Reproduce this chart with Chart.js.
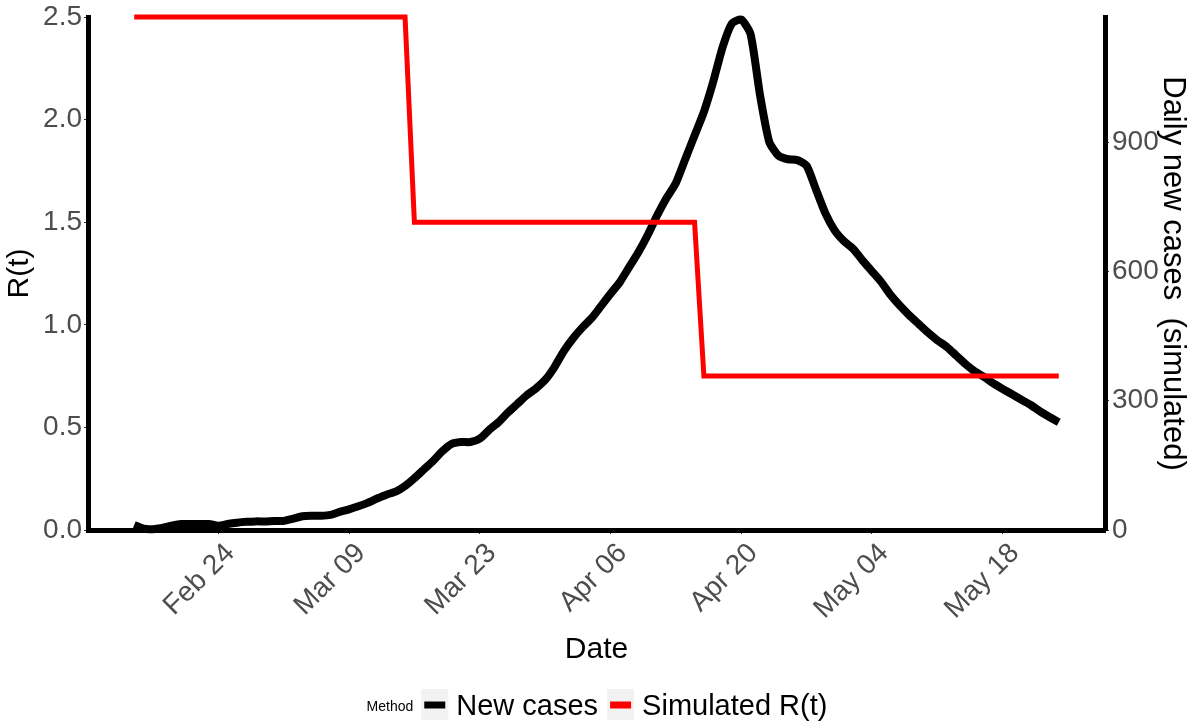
<!DOCTYPE html>
<html>
<head>
<meta charset="utf-8">
<script src="https://cdn.jsdelivr.net/npm/chart.js@4.4.1/dist/chart.umd.min.js"></script>
<style>
  html, body { margin: 0; padding: 0; background: #fff; }
</style>
</head>
<body>
<canvas id="chart" width="1192" height="725"></canvas>
<script>
// x = days since 2020-02-15
const tickDays = [9, 23, 37, 51, 65, 79, 93];
const tickLabels = ['Feb 24', 'Mar 09', 'Mar 23', 'Apr 06', 'Apr 20', 'May 04', 'May 18'];
const rTicks = [0, 0.5, 1, 1.5, 2, 2.5];
const caseTicks = [0, 300, 600, 900];

// simulated R(t): change points only
const rDays = [0, 29, 30, 60, 61, 99];
const rValues = [2.5, 2.5, 1.5, 1.5, 0.75, 0.75];

// daily new cases, one per day from Feb 15
const newCases = [
  12, 3, 2, 5, 10, 14, 14, 14, 14, 10,
  14, 17, 19, 20, 20, 21, 21, 26, 32, 33,
  33, 35, 42, 48, 55, 63, 73, 82, 89, 102,
  120, 140, 160, 183, 200, 204, 204, 212, 232, 250,
  272, 292, 312, 328, 348, 378, 415, 445, 470, 492,
  520, 548, 575, 610, 645, 685, 730, 770, 805, 860,
  915, 970, 1040, 1120, 1175, 1184, 1150, 1010, 900, 868,
  860, 858, 845, 790, 735, 695, 670, 652, 625, 600,
  575, 545, 520, 498, 478, 458, 440, 425, 405, 385,
  368, 355, 340, 327, 315, 302, 290, 275, 262, 250
];

const legendTitle = 'Method';
const fontFamily = '"Liberation Sans", Arial, Helvetica, sans-serif';
const tickColor = '#4D4D4D';

const legendPlugin = {
  id: 'methodLegend',
  afterDraw(chart) {
    const { ctx } = chart;
    const y = 705;
    const keyW = 27, keyH = 31;
    ctx.save();
    ctx.textBaseline = 'middle';
    ctx.font = `14px ${fontFamily}`;
    const titleW = ctx.measureText(legendTitle).width;
    ctx.font = `29px ${fontFamily}`;
    const items = chart.data.datasets.map(ds => ({
      text: ds.label, color: ds.borderColor, w: ctx.measureText(ds.label).width
    }));
    let total = titleW + 8;
    items.forEach((it, i) => { total += keyW + 8 + it.w + (i < items.length - 1 ? 9 : 0); });
    let x = 597 - total / 2;

    ctx.fillStyle = '#000';
    ctx.font = `14px ${fontFamily}`;
    ctx.fillText(legendTitle, x, y + 2);
    x += titleW + 8;

    ctx.font = `29px ${fontFamily}`;
    items.forEach(it => {
      ctx.fillStyle = '#F2F2F2';
      ctx.fillRect(x, y - 16, keyW, keyH);
      ctx.strokeStyle = it.color;
      ctx.lineWidth = 7;
      ctx.beginPath();
      ctx.moveTo(x + 3, y);
      ctx.lineTo(x + keyW - 3, y);
      ctx.stroke();
      x += keyW + 8;
      ctx.fillStyle = '#000';
      ctx.fillText(it.text, x, y + 2);
      x += it.w + 9;
    });
    ctx.restore();
  }
};

const tickFont = { family: fontFamily, size: 28 };
const titleFont = { family: fontFamily, size: 30 };
const axisBorder = { display: true, color: '#000', width: 5 };
const axisGrid = { display: true, drawOnChartArea: false, drawTicks: true, tickLength: 4, color: '#333333', lineWidth: 1 };

new Chart(document.getElementById('chart'), {
  type: 'line',
  data: {
    datasets: [
      {
        label: 'New cases',
        data: newCases.map((v, i) => ({ x: i, y: v })),
        yAxisID: 'y1',
        borderColor: '#000000',
        borderWidth: 8,
        borderJoinStyle: 'round',
        pointRadius: 0,
        tension: 0.2,
        order: 1,
        clip: false
      },
      {
        label: 'Simulated R(t)',
        data: rDays.map((d, i) => ({ x: d, y: rValues[i] })),
        yAxisID: 'y',
        borderColor: '#FF0000',
        borderWidth: 5,
        borderJoinStyle: 'miter',
        pointRadius: 0,
        tension: 0,
        order: 0,
        clip: false
      }
    ]
  },
  options: {
    responsive: false,
    animation: false,
    layout: { padding: { top: 17, bottom: 50, left: 0, right: 0 } },
    plugins: { legend: { display: false }, tooltip: { enabled: false } },
    scales: {
      x: {
        type: 'linear',
        min: -4.95,
        max: 103.95,
        border: axisBorder,
        grid: axisGrid,
        afterBuildTicks: s => { s.ticks = tickDays.map(v => ({ value: v })); },
        afterFit: s => { s.height = 145; s.paddingLeft = 0; s.paddingRight = 0; },
        ticks: {
          autoSkip: false,
          minRotation: 45,
          maxRotation: 45,
          padding: 3,
          labelOffset: 12,
          color: tickColor,
          font: tickFont,
          callback: (v, i) => tickLabels[i]
        },
        title: { display: true, text: 'Date', color: '#000', font: titleFont, padding: { bottom: 7 } }
      },
      y: {
        position: 'left',
        min: 0,
        max: 2.5,
        border: axisBorder,
        grid: axisGrid,
        afterBuildTicks: s => { s.ticks = rTicks.map(v => ({ value: v })); },
        afterFit: s => { s.width = 88; s.paddingTop = 0; s.paddingBottom = 0; },
        ticks: { padding: 2, color: tickColor, font: tickFont, callback: v => v.toFixed(1) },
        title: { display: true, text: 'R(t)', color: '#000', font: titleFont, padding: { top: 2 } }
      },
      y1: {
        position: 'right',
        min: 0,
        max: 1190,
        border: axisBorder,
        grid: axisGrid,
        afterBuildTicks: s => { s.ticks = caseTicks.map(v => ({ value: v })); },
        afterFit: s => { s.width = 87; s.paddingTop = 0; s.paddingBottom = 0; },
        ticks: { padding: 3, color: tickColor, font: tickFont, callback: v => String(v) },
        title: { display: true, text: 'Daily new cases  (simulated)', color: '#000', font: { family: fontFamily, size: 31 }, padding: { top: 1 } }
      }
    }
  },
  plugins: [legendPlugin]
});
</script>
</body>
</html>
